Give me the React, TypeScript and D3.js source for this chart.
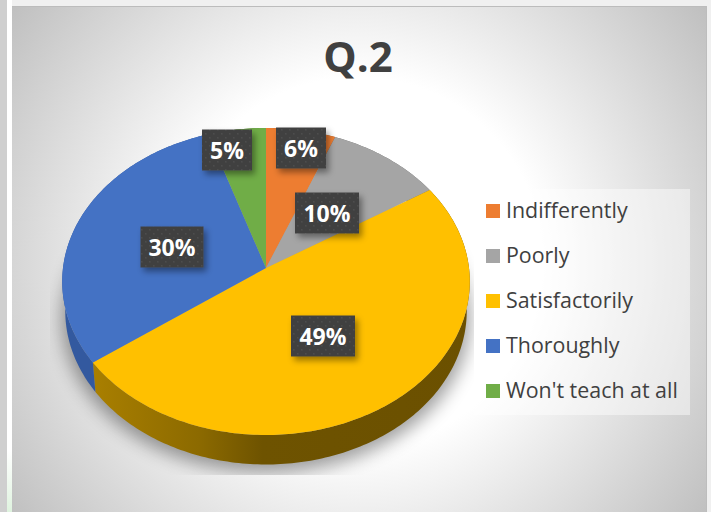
import React from "react";
import * as d3 from "d3";

const categories = ["Indifferently", "Poorly", "Satisfactorily", "Thoroughly", "Won't teach at all"];
const values = [6, 10, 49, 30, 5];
const topColors = ["#ED7D31", "#A5A5A5", "#FFC000", "#4472C4", "#70AD47"];
const sideColors = ["#8f4d1e", "#6a6a6a", "url(#wallY)", "#33599f", "#4d7a30"];
const title = "Q.2";
// layout only: label centres relative to the pie apex, label box widths
const labelOffsets = [[35, -120], [61, -55], [57, 68], [-94, -21], [-39, -118]];
const labelWidths = [50, 64, 64, 63, 50];

const W = 711, H = 512;
const apex = { x: 266, y: 268 };
const R = 203, S = 152.3, K = 0.0879, DEPTH = 29.5, SHRINK = 0.985;

const project = (a: number, r = 1) => {
  const u = Math.sin(a) * r, v = Math.cos(a) * r;
  const w = 1 + K * v;
  return [apex.x + (R * u) / w, apex.y - (S * v) / w] as [number, number];
};
const drop = (p: [number, number]) =>
  [apex.x + (p[0] - apex.x) * SHRINK, p[1] + DEPTH] as [number, number];

const arcPts = (a0: number, a1: number) => {
  const n = Math.max(2, Math.ceil(((a1 - a0) * 180) / Math.PI));
  return d3.range(n + 1).map((i) => project(a0 + ((a1 - a0) * i) / n));
};
const line = d3.line<[number, number]>();
const slices = d3.pie<number>().sort(null)(values);
const facePath = (s: d3.PieArcDatum<number>) =>
  line([[apex.x, apex.y], ...arcPts(s.startAngle, s.endAngle)]) + "Z";
const wallPath = (s: d3.PieArcDatum<number>) => {
  const top = arcPts(s.startAngle, s.endAngle);
  return line([...top, ...top.map(drop).reverse()]) + "Z";
};
const fullRing = arcPts(0, Math.PI * 2);
const shadowPath = line(fullRing.map((p) => [p[0], p[1] + DEPTH + 8] as [number, number])) + "Z";

const legendY = d3.scalePoint<string>().domain(categories).range([210.5, 390.5]);

const labelFont = "'Open Sans', sans-serif";

export default function App() {
  return (
    <svg width={W} height={H} viewBox={`0 0 ${W} ${H}`} style={{ position: "absolute", left: 0, top: 0, display: "block" }}>
      <defs>
        <radialGradient id="bg" gradientUnits="userSpaceOnUse" cx={358} cy={262} r={440}>
          <stop offset="0.42" stopColor="#ffffff" />
          <stop offset="1" stopColor="#bdbdbd" />
        </radialGradient>
        <linearGradient id="wallY" gradientUnits="userSpaceOnUse" x1={93} x2={470} y1={0} y2={0}>
          <stop offset="0" stopColor="#a97f00" />
          <stop offset="0.28" stopColor="#8c6a00" />
          <stop offset="0.45" stopColor="#6e5300" />
          <stop offset="1" stopColor="#6b5000" />
        </linearGradient>
        <linearGradient id="leftStrip" x1="0" x2="0" y1="0" y2="1">
          <stop offset="0.88" stopColor="#ffffff" />
          <stop offset="1" stopColor="#dff3df" />
        </linearGradient>
        <filter id="blur" x="-20%" y="-20%" width="140%" height="140%">
          <feGaussianBlur stdDeviation="9" />
        </filter>
        <filter id="lblShadow" x="-30%" y="-30%" width="170%" height="170%">
          <feDropShadow dx="3" dy="4" stdDeviation="3" floodColor="#000" floodOpacity="0.4" />
        </filter>
        <pattern id="dots" patternUnits="userSpaceOnUse" width="8" height="8">
          <rect width="8" height="8" fill="#404040" />
          <rect x="1" y="1" width="1.5" height="1.5" fill="#4e4e4e" />
          <rect x="5" y="5" width="1.5" height="1.5" fill="#4e4e4e" />
        </pattern>
        <clipPath id="shadowClip">
          <rect x={50} y={130} width={424} height={345} />
        </clipPath>
      </defs>

      <rect width={W} height={H} fill="#f0f0f0" />
      <rect x={0} y={0} width={7} height={H} fill="#cfcfcf" />
      <rect x={7} y={0} width={5} height={H} fill="url(#leftStrip)" />
      <rect x={12} y={6} width={694} height={H - 6} fill="url(#bg)" />
      <rect x={12} y={6} width={694} height={1} fill="#bcbcbc" />
      <rect x={706} y={6} width={1} height={H - 6} fill="#bdbdbd" />

      <text x={358} y={72} textAnchor="middle" fontFamily={labelFont} fontWeight={700} fontSize={42} fill="#404040">{title}</text>

      <g clipPath="url(#shadowClip)">
        <path d={shadowPath} fill="#000" opacity={0.38} filter="url(#blur)" />
      </g>

      {slices.map((s, i) => <path key={i} d={wallPath(s)} fill={sideColors[i]} />)}
      {slices.map((s, i) => <path key={i} d={facePath(s)} fill={topColors[i]} />)}

      {values.map((v, i) => {
        const cx = apex.x + labelOffsets[i][0], cy = apex.y + labelOffsets[i][1], w = labelWidths[i];
        return (
          <g key={i}>
            <rect x={cx - w / 2} y={cy - 20.5} width={w} height={41} fill="url(#dots)" filter="url(#lblShadow)" />
            <text x={cx} y={cy + 8.5} textAnchor="middle" fontFamily={labelFont} fontWeight={700} fontSize={23} fill="#fff">{v}%</text>
          </g>
        );
      })}

      <rect x={474} y={189} width={216} height={226} fill="#ffffff" opacity={0.45} />
      {categories.map((c, i) => (
        <g key={c}>
          <rect x={486} y={legendY(c)! - 6.5} width={14} height={14} fill={topColors[i]} />
          <text x={506} y={legendY(c)! + 7.5} fontFamily={labelFont} fontSize={21.4} fill="#404040">{c}</text>
        </g>
      ))}
    </svg>
  );
}
